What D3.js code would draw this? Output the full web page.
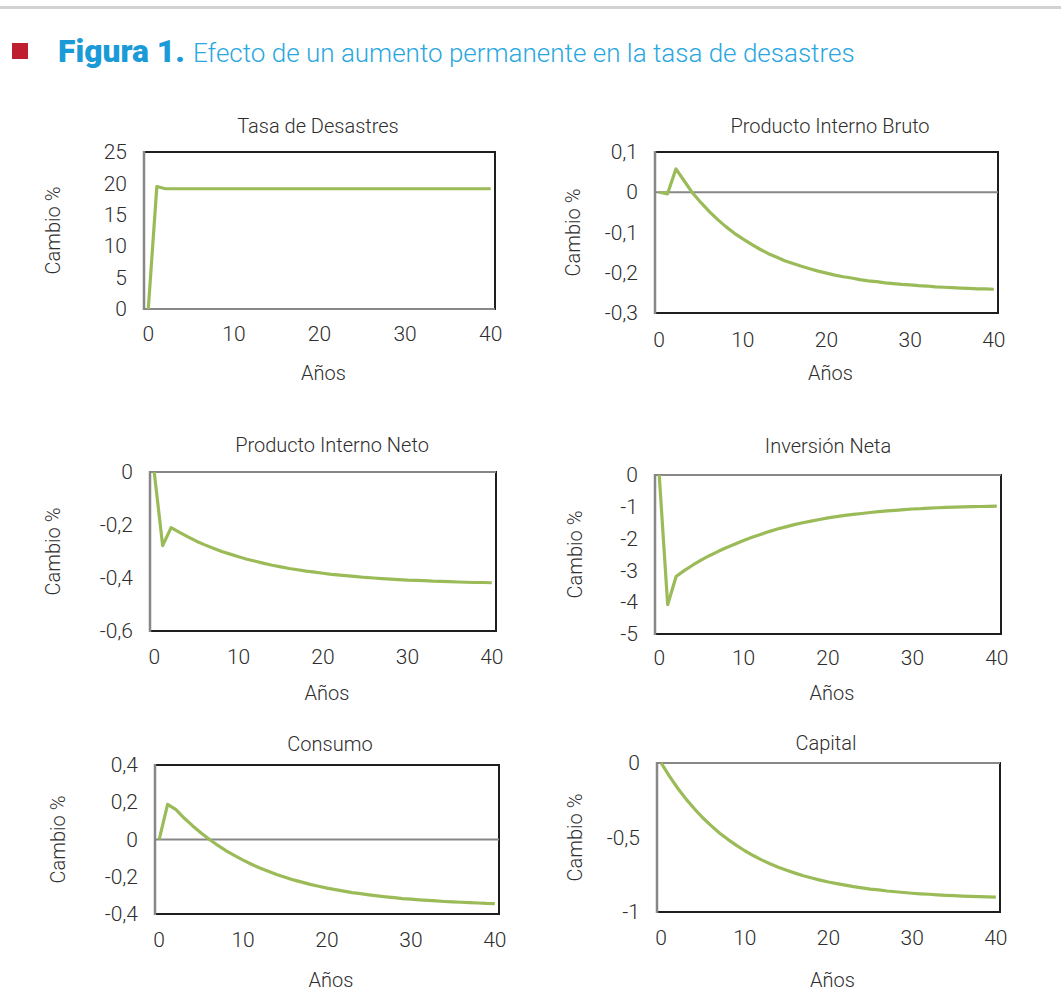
<!DOCTYPE html>
<html>
<head>
<meta charset="utf-8">
<script src="https://cdn.jsdelivr.net/npm/d3@7"></script>
<style>
  html, body { margin: 0; padding: 0; background: #fff; }
  svg { display: block; font-family: Roboto, Lato, sans-serif; font-weight: 300; }
</style>
</head>
<body>
<svg id="chart" width="1061" height="1004"></svg>
<script>
// --- data ---
const years = [0, 1, 2, 3, 4, 5, 6, 7, 8, 9, 10, 11, 12, 13, 14, 15, 16, 17, 18, 19, 20,
  21, 22, 23, 24, 25, 26, 27, 28, 29, 30, 31, 32, 33, 34, 35, 36, 37, 38, 39, 40];
const xTicks = [0, 10, 20, 30, 40];

const tasaDesastres = [0, 19.5, 19.15, 19.15, 19.15, 19.15, 19.15, 19.15, 19.15, 19.15, 19.15,
  19.15, 19.15, 19.15, 19.15, 19.15, 19.15, 19.15, 19.15, 19.15, 19.15,
  19.15, 19.15, 19.15, 19.15, 19.15, 19.15, 19.15, 19.15, 19.15, 19.15,
  19.15, 19.15, 19.15, 19.15, 19.15, 19.15, 19.15, 19.15, 19.15, 19.15];
const pib = [0, -0.004, 0.058, 0.028, -0.002, -0.026, -0.048, -0.068, -0.086, -0.102, -0.116,
  -0.129, -0.141, -0.152, -0.161, -0.170, -0.177, -0.184, -0.190, -0.196, -0.201,
  -0.206, -0.210, -0.213, -0.217, -0.220, -0.222, -0.225, -0.227, -0.229, -0.230,
  -0.232, -0.233, -0.235, -0.236, -0.237, -0.238, -0.239, -0.240, -0.240, -0.241];
const pin = [0, -0.278, -0.210, -0.228, -0.245, -0.261, -0.275, -0.288, -0.300, -0.310, -0.320,
  -0.329, -0.337, -0.345, -0.352, -0.358, -0.364, -0.369, -0.374, -0.378, -0.382,
  -0.386, -0.389, -0.392, -0.395, -0.398, -0.400, -0.402, -0.404, -0.406, -0.408,
  -0.409, -0.410, -0.412, -0.413, -0.414, -0.415, -0.416, -0.417, -0.417, -0.418];
const inversionNeta = [0, -4.08, -3.19, -3.00, -2.83, -2.67, -2.53, -2.40, -2.28, -2.17, -2.06,
  -1.96, -1.87, -1.78, -1.70, -1.63, -1.56, -1.50, -1.45, -1.40, -1.35,
  -1.31, -1.27, -1.24, -1.21, -1.18, -1.15, -1.13, -1.11, -1.09, -1.07,
  -1.06, -1.04, -1.03, -1.02, -1.01, -1.00, -0.995, -0.99, -0.985, -0.98];
const consumo = [0, 0.189, 0.160, 0.114, 0.073, 0.035, 0.000, -0.032, -0.061, -0.087, -0.111,
  -0.133, -0.153, -0.171, -0.188, -0.203, -0.217, -0.229, -0.241, -0.251, -0.261,
  -0.269, -0.277, -0.285, -0.291, -0.297, -0.303, -0.308, -0.312, -0.317, -0.320,
  -0.324, -0.327, -0.330, -0.333, -0.335, -0.337, -0.339, -0.341, -0.343, -0.344];
const capital = [0, -0.090, -0.171, -0.244, -0.309, -0.369, -0.422, -0.471, -0.514, -0.553, -0.589,
  -0.621, -0.650, -0.676, -0.699, -0.720, -0.739, -0.757, -0.772, -0.786, -0.799,
  -0.810, -0.820, -0.830, -0.838, -0.846, -0.852, -0.859, -0.864, -0.869, -0.874,
  -0.878, -0.881, -0.885, -0.888, -0.890, -0.893, -0.895, -0.897, -0.899, -0.900];

const titles = ["Tasa de Desastres", "Producto Interno Bruto", "Producto Interno Neto",
  "Inversión Neta", "Consumo", "Capital"];
const yTicks = [
  [0, 5, 10, 15, 20, 25],
  [0.1, 0, -0.1, -0.2, -0.3],
  [0, -0.2, -0.4, -0.6],
  [0, -1, -2, -3, -4, -5],
  [0.4, 0.2, 0, -0.2, -0.4],
  [0, -0.5, -1]
];
const series = [tasaDesastres, pib, pin, inversionNeta, consumo, capital];

// --- layout per panel (pixel boxes measured on the reference) ---
const panels = [
  { x0: 144, x1: 495, y0: 152, y1: 309, titleX: 318, titleY: 133, ylabX: 53, tickY: 334, labY: 373 },
  { x0: 655, x1: 998, y0: 152, y1: 313, titleX: 830, titleY: 133, ylabX: 573, tickY: 340, labY: 373 },
  { x0: 150, x1: 496, y0: 472, y1: 631, titleX: 332, titleY: 452, ylabX: 53, tickY: 657, labY: 693 },
  { x0: 655, x1: 1001, y0: 475, y1: 634, titleX: 828, titleY: 453, ylabX: 575, tickY: 658, labY: 693 },
  { x0: 155, x1: 499, y0: 765, y1: 914, titleX: 330, titleY: 751, ylabX: 58, tickY: 940, labY: 980 },
  { x0: 657, x1: 1000, y0: 763, y1: 912, titleX: 826, titleY: 750, ylabX: 575, tickY: 938, labY: 980 }
];

const lineColor = "#9bbb59";
const axisGray = "#878787";
const textColor = "#2e2e2e";
const fontSize = "21px";

const locale = d3.formatLocale({ decimal: ",", thousands: ".", grouping: [3], currency: ["", ""], minus: "-" });
const fmt = v => locale.format("~g")(v);

const svg = d3.select("#chart");

// --- header ---
svg.append("rect").attr("x", 0).attr("y", 6).attr("width", 1061).attr("height", 3).attr("fill", "#d2d2d2");
svg.append("rect").attr("x", 12).attr("y", 43).attr("width", 16).attr("height", 16).attr("fill", "#be1e2d");
const headBold = svg.append("text").attr("x", 58).attr("y", 62)
  .attr("fill", "#1b9ad8").style("font-size", "28px").style("font-weight", "900")
  .text("Figura 1.");
const headLight = svg.append("text").attr("x", 193).attr("y", 62)
  .attr("fill", "#2aa7e0").style("font-size", "26px").style("font-weight", "300")
  .text("Efecto de un aumento permanente en la tasa de desastres");
// fit header pieces to the widths they take in the figure
[[headBold, 127, 28], [headLight, 662, 26]].forEach(([t, w, fs]) => {
  const len = t.node().getComputedTextLength();
  if (len > 0) t.style("font-size", (fs * w / len).toFixed(1) + "px");
});

// --- panels ---
panels.forEach((p, i) => {
  const data = series[i];
  const ticks = yTicks[i];
  const g = svg.append("g");

  const x = d3.scaleBand().domain(years).range([p.x0, p.x1]);
  const y = d3.scaleLinear().domain([d3.min(ticks), d3.max(ticks)]).range([p.y1, p.y0]);
  const cx = t => x(t) + x.bandwidth() / 2;

  // plot area border
  g.append("rect")
    .attr("x", p.x0).attr("y", p.y0)
    .attr("width", p.x1 - p.x0).attr("height", p.y1 - p.y0)
    .attr("fill", "none").attr("stroke", "#1e1e1e").attr("stroke-width", 2);

  // horizontal axis at zero and vertical axis on the left
  g.append("line")
    .attr("x1", p.x0).attr("x2", p.x1).attr("y1", y(0)).attr("y2", y(0))
    .attr("stroke", axisGray).attr("stroke-width", 2);
  g.append("line")
    .attr("x1", p.x0).attr("x2", p.x0).attr("y1", p.y0 - 1).attr("y2", p.y1 + 1)
    .attr("stroke", axisGray).attr("stroke-width", 2.5);

  // y tick labels
  const yAxis = g.append("g")
    .attr("transform", `translate(${p.x0},0)`)
    .call(d3.axisLeft(y).tickValues(ticks).tickSize(0).tickPadding(17).tickFormat(fmt));
  yAxis.select(".domain").remove();
  yAxis.selectAll("text").attr("fill", textColor)
    .style("font-size", fontSize).style("font-family", "Roboto, Lato, sans-serif").style("font-weight", 300);

  // x tick labels
  const xAxis = g.append("g")
    .attr("transform", `translate(0,${p.tickY})`)
    .call(d3.axisBottom(x).tickValues(xTicks).tickSize(0).tickPadding(0));
  xAxis.select(".domain").remove();
  xAxis.selectAll("text").attr("dy", "0.35em").attr("fill", textColor)
    .style("font-size", fontSize).style("font-family", "Roboto, Lato, sans-serif").style("font-weight", 300);

  // series line
  g.append("path")
    .datum(data)
    .attr("fill", "none")
    .attr("stroke", lineColor)
    .attr("stroke-width", 3.2)
    .attr("stroke-linejoin", "round")
    .attr("d", d3.line().x((d, k) => cx(years[k])).y(d => y(d)));

  // titles and axis labels
  g.append("text")
    .attr("x", p.titleX).attr("y", p.titleY)
    .attr("text-anchor", "middle").attr("fill", textColor)
    .style("font-size", "20px")
    .text(titles[i]);
  g.append("text")
    .attr("x", (p.x0 + p.x1) / 2 + 4).attr("y", p.labY).attr("dy", "0.35em")
    .attr("text-anchor", "middle").attr("fill", textColor)
    .style("font-size", "20px")
    .text("Años");
  g.append("text")
    .attr("transform", `translate(${p.ylabX},${(p.y0 + p.y1) / 2}) rotate(-90)`)
    .attr("dy", "0.35em")
    .attr("text-anchor", "middle").attr("fill", textColor)
    .style("font-size", "20px")
    .text("Cambio %");
});
</script>
</body>
</html>
